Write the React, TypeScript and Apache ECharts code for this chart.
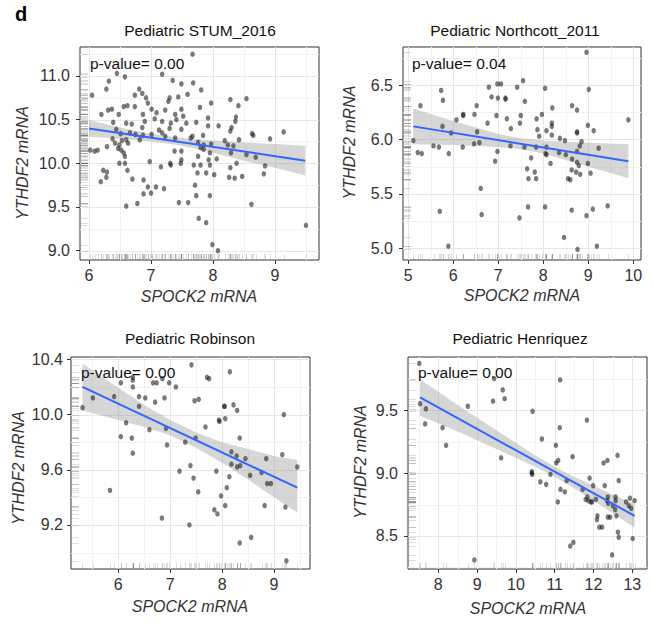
import React, { useEffect, useRef } from 'react';
import * as echarts from 'echarts';

// ---------- data ----------
const stumPoints = [
  [7.67,11.25],[6.45,11.03],[7.18,11.02],[6.58,10.99],[6.32,10.94],[7.35,10.95],[7.68,10.92],[7.49,10.91],[6.28,10.85],[6.81,10.85],
  [7.81,10.84],[6.86,10.80],[6.05,10.78],[6.74,10.78],[6.92,10.75],[7.30,10.75],[7.44,10.76],[7.59,10.79],[8.54,10.74],[8.28,10.73],
  [6.95,10.69],[7.28,10.71],[7.97,10.69],[8.41,10.66],[6.62,10.66],[6.56,10.65],[6.74,10.65],[7.79,10.64],[6.37,10.62],[6.31,10.61],
  [7.01,10.62],[7.23,10.61],[7.49,10.62],[6.20,10.56],[6.48,10.56],[6.87,10.56],[7.09,10.58],[7.39,10.56],[7.52,10.54],[8.37,10.53],
  [7.06,10.51],[7.92,10.52],[6.90,10.48],[7.18,10.48],[7.41,10.50],[8.36,10.48],[6.39,10.47],[6.60,10.46],[6.69,10.45],[7.32,10.46],
  [7.57,10.46],[7.73,10.47],[7.92,10.43],[8.09,10.43],[8.30,10.41],[6.44,10.39],[6.86,10.41],[7.13,10.38],[7.49,10.39],[7.18,10.35],
  [7.30,10.40],[8.28,10.37],[8.63,10.34],[9.14,10.36],[6.51,10.34],[6.66,10.35],[6.75,10.33],[6.87,10.32],[7.01,10.33],[7.23,10.31],
  [7.67,10.31],[7.84,10.32],[8.65,10.32],[6.38,10.28],[6.60,10.27],[6.82,10.27],[7.39,10.29],[7.64,10.29],[8.42,10.27],[8.92,10.28],
  [7.76,10.24],[8.19,10.26],[6.42,10.23],[6.49,10.21],[6.53,10.26],[6.63,10.23],[6.29,10.19],[7.80,10.18],[7.85,10.21],[7.97,10.22],
  [8.24,10.21],[6.02,10.15],[6.09,10.14],[6.14,10.15],[6.47,10.17],[6.52,10.15],[6.56,10.12],[7.38,10.14],[7.49,10.14],[7.85,10.16],
  [8.29,10.12],[8.54,10.10],[8.33,10.20],[6.58,10.08],[7.76,10.08],[7.95,10.12],[8.69,10.07],[7.49,10.04],[7.93,10.04],[8.06,10.05],
  [6.49,10.00],[6.58,10.00],[6.98,10.02],[7.31,10.00],[7.32,9.98],[7.48,10.00],[7.69,9.98],[7.80,9.98],[7.95,9.98],[8.38,10.00],
  [8.84,9.97],[7.16,9.96],[8.28,9.95],[6.62,9.92],[6.23,9.92],[6.29,9.90],[7.75,9.89],[7.89,9.89],[8.82,9.88],[6.28,9.84],
  [6.70,9.82],[8.02,9.87],[8.26,9.84],[8.35,9.83],[8.47,9.85],[6.19,9.79],[6.88,9.81],[7.71,9.75],[6.95,9.73],[7.08,9.73],
  [7.21,9.71],[6.88,9.65],[7.00,9.66],[7.73,9.63],[7.95,9.63],[6.78,9.54],[7.45,9.55],[7.60,9.55],[8.62,9.53],[6.60,9.51],
  [7.77,9.37],[7.89,9.32],[9.50,9.29],[7.99,9.07],[8.08,9.00]
];
const stumLine = [[6.0, 10.40], [9.49, 10.03]];
const stumBandX = [6.0, 6.5, 7.0, 7.5, 8.0, 8.5, 9.0, 9.49];
const stumBandLow = [10.305, 10.28, 10.25, 10.20, 10.12, 10.03, 9.95, 9.86];
const stumBandHigh = [10.495, 10.41, 10.34, 10.29, 10.26, 10.24, 10.22, 10.20];
const stumXTicks = [6, 7, 8, 9];
const stumXMinor = [6.5, 7.5, 8.5, 9.5];
const stumYTicks = [9.0, 9.5, 10.0, 10.5, 11.0];
const stumYMinor = [9.25, 9.75, 10.25, 10.75, 11.25];

const northPoints = [
  [8.96,6.80],[7.55,6.54],[6.79,6.48],[6.98,6.51],[7.06,6.51],[7.42,6.48],[5.73,6.45],[8.04,6.47],[9.01,6.46],[5.77,6.36],
  [6.85,6.39],[6.99,6.38],[7.16,6.37],[7.16,6.38],[7.59,6.35],[5.27,6.31],[6.52,6.31],[8.20,6.29],[8.64,6.31],[8.75,6.27],
  [6.22,6.23],[6.22,6.22],[6.47,6.23],[6.07,6.18],[6.96,6.22],[7.19,6.19],[7.97,6.23],[7.85,6.19],[7.50,6.22],[7.48,6.15],
  [6.76,6.15],[8.19,6.15],[8.99,6.13],[9.89,6.18],[7.28,6.10],[5.76,6.12],[6.53,6.07],[7.87,6.09],[8.07,6.08],[8.19,6.12],
  [9.12,6.08],[5.95,6.06],[7.91,6.03],[8.19,6.04],[8.37,6.01],[8.48,5.99],[8.75,6.06],[8.75,6.07],[5.11,5.99],[6.46,5.96],
  [6.58,5.97],[5.56,5.94],[5.68,5.93],[6.21,5.93],[7.27,5.94],[7.58,5.93],[7.84,5.93],[8.07,5.93],[8.81,5.94],[8.85,5.98],
  [9.23,5.92],[8.05,5.87],[8.07,5.86],[8.35,5.88],[8.50,5.86],[8.75,5.89],[5.21,5.88],[5.30,5.87],[5.90,5.87],[6.98,5.89],
  [7.73,5.83],[6.93,5.80],[8.16,5.78],[8.64,5.82],[8.75,5.79],[8.79,5.76],[8.99,5.78],[7.64,5.73],[7.81,5.70],[8.63,5.72],
  [8.73,5.70],[8.82,5.68],[9.05,5.69],[7.67,5.64],[7.84,5.64],[8.55,5.64],[8.60,5.63],[6.61,5.55],[7.66,5.38],[8.04,5.38],
  [5.70,5.34],[6.63,5.31],[8.63,5.35],[9.10,5.36],[9.43,5.39],[8.96,5.30],[7.47,5.28],[8.46,5.10],[5.89,5.02],[8.76,4.99],
  [9.19,5.02]
];
const northLine = [[5.11, 6.12], [9.89, 5.80]];
const northBandX = [5.11, 6.0, 7.0, 7.5, 8.0, 9.0, 9.89];
const northBandLow = [5.955, 5.95, 5.93, 5.91, 5.87, 5.75, 5.645];
const northBandHigh = [6.285, 6.17, 6.05, 6.01, 5.99, 5.97, 5.955];
const northXTicks = [5, 6, 7, 8, 9, 10];
const northXMinor = [5.5, 6.5, 7.5, 8.5, 9.5];
const northYTicks = [5.0, 5.5, 6.0, 6.5];
const northYMinor = [5.25, 5.75, 6.25, 6.75];

const robinPoints = [
  [7.41,10.36],[7.71,10.27],[7.75,10.26],[8.15,10.31],[6.28,10.27],[6.28,10.25],[6.05,10.23],[6.67,10.23],[6.74,10.23],[6.85,10.26],
  [6.98,10.23],[7.11,10.20],[6.28,10.20],[5.31,10.05],[5.51,10.12],[5.92,10.13],[6.40,10.13],[6.52,10.12],[6.40,10.06],[6.71,10.09],
  [6.89,10.12],[7.47,10.10],[7.55,10.11],[8.22,10.07],[8.04,10.06],[8.05,10.06],[8.29,10.03],[9.19,10.00],[7.94,9.96],[7.95,9.95],
  [8.06,9.97],[6.15,9.94],[6.60,9.89],[6.92,9.90],[7.68,9.91],[6.05,9.84],[6.26,9.83],[7.49,9.83],[8.34,9.83],[7.29,9.80],
  [6.94,9.78],[6.28,9.72],[8.18,9.73],[8.28,9.70],[9.16,9.71],[8.45,9.68],[8.85,9.68],[8.18,9.64],[8.35,9.63],[8.29,9.62],
  [7.39,9.63],[9.45,9.62],[8.76,9.58],[7.18,9.59],[7.89,9.59],[8.14,9.55],[8.54,9.56],[7.45,9.54],[8.87,9.50],[8.94,9.50],
  [8.09,9.47],[7.54,9.44],[5.84,9.45],[7.98,9.41],[8.82,9.34],[9.22,9.33],[8.06,9.34],[7.85,9.31],[7.91,9.28],[6.84,9.25],
  [7.37,9.20],[8.56,9.11],[8.34,9.07],[9.24,8.94]
];
const robinLine = [[5.31, 10.20], [9.45, 9.47]];
const robinBandX = [5.31, 6.0, 6.5, 7.0, 7.5, 8.0, 8.5, 9.0, 9.45];
const robinBandLow = [10.03, 9.96, 9.91, 9.85, 9.76, 9.65, 9.53, 9.40, 9.29];
const robinBandHigh = [10.37, 10.195, 10.07, 9.96, 9.87, 9.80, 9.75, 9.70, 9.67];
const robinXTicks = [6, 7, 8, 9];
const robinXMinor = [5.5, 6.5, 7.5, 8.5, 9.5];
const robinYTicks = [9.2, 9.6, 10.0, 10.4];
const robinYMinor = [9.0, 9.4, 9.8, 10.2];

const henPoints = [
  [7.51,9.87],[7.53,9.55],[7.68,9.51],[7.66,9.39],[8.11,9.36],[8.20,9.22],[8.76,9.53],[8.93,8.31],[9.44,9.75],[9.41,9.57],
  [9.66,9.66],[9.71,9.59],[9.62,9.12],[10.43,9.49],[10.41,9.01],[10.41,9.00],[10.42,8.99],[10.63,8.93],[10.78,8.91],[10.67,9.27],
  [11.14,9.74],[11.13,9.36],[11.03,9.22],[11.09,9.10],[11.04,9.08],[10.89,8.99],[11.15,8.87],[11.26,8.85],[11.08,8.77],[11.31,8.94],
  [11.46,9.13],[11.40,8.42],[11.48,8.45],[11.83,9.42],[11.90,8.96],[11.72,8.87],[11.84,8.81],[11.80,8.79],[11.87,8.78],[11.93,8.77],
  [11.96,8.77],[11.99,8.90],[12.06,8.79],[12.26,9.08],[12.36,9.10],[12.29,8.90],[12.62,9.14],[12.65,8.94],[12.10,8.66],[12.09,8.63],
  [12.15,8.57],[12.22,8.57],[12.37,8.81],[12.35,8.78],[12.38,8.76],[12.43,8.65],[12.37,8.65],[12.50,8.74],[12.56,8.71],[12.59,8.66],
  [12.57,8.78],[12.57,8.81],[12.63,8.53],[12.65,8.49],[12.48,8.35],[12.84,8.77],[12.94,8.80],[12.97,8.72],[13.06,8.78],[12.91,8.74],
  [13.01,8.48]
];
const henLine = [[7.53, 9.60], [13.06, 8.66]];
const henBandX = [7.53, 8.5, 9.5, 10.5, 11.0, 11.5, 12.5, 13.06];
const henBandLow = [9.455, 9.33, 9.19, 9.05, 8.97, 8.88, 8.68, 8.565];
const henBandHigh = [9.745, 9.54, 9.34, 9.14, 9.05, 8.97, 8.83, 8.755];
const henXTicks = [8, 9, 10, 11, 12, 13];
const henXMinor = [7.5, 8.5, 9.5, 10.5, 11.5, 12.5];
const henYTicks = [8.5, 9.0, 9.5];
const henYMinor = [8.25, 8.75, 9.25, 9.75];

const titles = ['Pediatric STUM_2016', 'Pediatric Northcott_2011', 'Pediatric Robinson', 'Pediatric Henriquez'];
const pValues = ['p-value= 0.00', 'p-value= 0.04', 'p-value= 0.00', 'p-value= 0.00'];
const xTitle = 'SPOCK2 mRNA';
const yTitle = 'YTHDF2 mRNA';

// ---------- layout ----------
const FONT = "'Liberation Sans', Arial, sans-serif";
const MAJOR = '#e6e6e6';
const MINOR = '#f3f3f3';

const panels = [
  { points: stumPoints, line: stumLine, bx: stumBandX, blo: stumBandLow, bhi: stumBandHigh,
    xt: stumXTicks, xm: stumXMinor, yt: stumYTicks, ym: stumYMinor, ydec: 1, ymargin: 10,
    grid: { left: 80, top: 47, width: 239, height: 213 }, xr: [5.855, 9.71], yr: [8.893, 11.332],
    title: [200, 30], ytitle: [22.5, 163], xtitle: [199, 296], p: [90, 63] },
  { points: northPoints, line: northLine, bx: northBandX, blo: northBandLow, bhi: northBandHigh,
    xt: northXTicks, xm: northXMinor, yt: northYTicks, ym: northYMinor, ydec: 1, ymargin: 10,
    grid: { left: 403, top: 47, width: 238, height: 213 }, xr: [4.882, 10.171], yr: [4.893, 6.849],
    title: [515, 30], ytitle: [349, 142.5], xtitle: [522, 295], p: [412, 63] },
  { points: robinPoints, line: robinLine, bx: robinBandX, blo: robinBandLow, bhi: robinBandHigh,
    xt: robinXTicks, xm: robinXMinor, yt: robinYTicks, ym: robinYMinor, ydec: 1, ymargin: 8,
    grid: { left: 71, top: 357, width: 239, height: 212 }, xr: [5.089, 9.694], yr: [8.881, 10.417],
    title: [190, 338], ytitle: [18.5, 468], xtitle: [190, 606], p: [81, 372] },
  { points: henPoints, line: henLine, bx: henBandX, blo: henBandLow, bhi: henBandHigh,
    xt: henXTicks, xm: henXMinor, yt: henYTicks, ym: henYMinor, ydec: 1, ymargin: 10,
    grid: { left: 408, top: 357, width: 239, height: 212 }, xr: [7.219, 13.379], yr: [8.238, 9.921],
    title: [520, 338], ytitle: [360.5, 462], xtitle: [528, 608], p: [418, 372] },
];

function buildOption() {
  const grids: any[] = [];
  const xAxes: any[] = [];
  const yAxes: any[] = [];
  const series: any[] = [];
  const graphics: any[] = [];

  panels.forEach((pn, i) => {
    grids.push({ ...pn.grid, show: true, borderColor: '#333', borderWidth: 1, backgroundColor: '#fff', containLabel: false });
    xAxes.push({
      type: 'value', gridIndex: i, min: pn.xr[0], max: pn.xr[1],
      axisLine: { show: false }, splitLine: { show: false },
      axisTick: { show: true, customValues: pn.xt, length: 4, inside: false, lineStyle: { color: '#333', width: 1 } },
      axisLabel: { customValues: pn.xt, formatter: (v: number) => String(Math.round(v)), color: '#333', fontSize: 16, fontFamily: FONT, margin: 7 },
    });
    yAxes.push({
      type: 'value', gridIndex: i, min: pn.yr[0], max: pn.yr[1],
      axisLine: { show: false }, splitLine: { show: false },
      axisTick: { show: true, customValues: pn.yt, length: 4, inside: false, lineStyle: { color: '#333', width: 1 } },
      axisLabel: { customValues: pn.yt, formatter: (v: number) => v.toFixed(pn.ydec), color: '#333', fontSize: 16, fontFamily: FONT, margin: pn.ymargin },
    });

    const gridData: any[] = [];
    pn.xt.forEach((v) => gridData.push([v, pn.yr[0], 0]));
    pn.xm.forEach((v) => gridData.push([v, pn.yr[0], 1]));
    pn.yt.forEach((v) => gridData.push([pn.xr[0], v, 2]));
    pn.ym.forEach((v) => gridData.push([pn.xr[0], v, 3]));

    series.push({
      type: 'custom', xAxisIndex: i, yAxisIndex: i, silent: true, z: 1,
      dimensions: ['x', 'y', 'k'], encode: { x: 0, y: 1 },
      data: gridData,
      renderItem: (params: any, api: any) => {
        const cs = params.coordSys;
        const k = api.value(2);
        const p = api.coord([api.value(0), api.value(1)]);
        const stroke = k % 2 === 0 ? MAJOR : MINOR;
        if (k < 2) {
          const x = Math.round(p[0]) + 0.5;
          return { type: 'line', shape: { x1: x, y1: cs.y, x2: x, y2: cs.y + cs.height }, style: { stroke, lineWidth: 1 } };
        }
        const y = Math.round(p[1]) + 0.5;
        return { type: 'line', shape: { x1: cs.x, y1: y, x2: cs.x + cs.width, y2: y }, style: { stroke, lineWidth: 1 } };
      },
    });

    series.push({
      type: 'custom', xAxisIndex: i, yAxisIndex: i, silent: true, z: 2,
      data: [[pn.bx[0], pn.blo[0]]],
      renderItem: (params: any, api: any) => {
        const pts: number[][] = [];
        for (let j = 0; j < pn.bx.length; j++) pts.push(api.coord([pn.bx[j], pn.bhi[j]]));
        for (let j = pn.bx.length - 1; j >= 0; j--) pts.push(api.coord([pn.bx[j], pn.blo[j]]));
        return { type: 'polygon', shape: { points: pts }, style: { fill: 'rgba(153,153,153,0.4)' } };
      },
    });

    series.push({
      type: 'custom', xAxisIndex: i, yAxisIndex: i, silent: true, z: 3,
      data: pn.points,
      renderItem: (params: any, api: any) => {
        const cs = params.coordSys;
        const p = api.coord([api.value(0), api.value(1)]);
        const st = { stroke: 'rgba(0,0,0,0.13)', lineWidth: 1 };
        const yy = Math.round(p[1]) + 0.5;
        const xx = Math.round(p[0]) + 0.5;
        return {
          type: 'group',
          children: [
            { type: 'line', shape: { x1: cs.x + 1, y1: yy, x2: cs.x + 8, y2: yy }, style: st },
            { type: 'line', shape: { x1: xx, y1: cs.y + cs.height - 1, x2: xx, y2: cs.y + cs.height - 6 }, style: st },
          ],
        };
      },
    });

    series.push({
      type: 'scatter', xAxisIndex: i, yAxisIndex: i, z: 4, silent: true,
      symbol: 'circle', symbolSize: [4.5, 5.5],
      itemStyle: { color: 'rgba(25,25,25,0.72)' },
      data: pn.points,
    });

    series.push({
      type: 'line', xAxisIndex: i, yAxisIndex: i, z: 5, silent: true,
      showSymbol: false, symbol: 'none',
      lineStyle: { color: '#3366FF', width: 2 },
      data: pn.line,
    });

    graphics.push({
      type: 'text', x: pn.title[0], y: pn.title[1],
      style: { text: titles[i], font: `15.5px ${FONT}`, fill: '#111', align: 'center', verticalAlign: 'middle', textAlign: 'center', textVerticalAlign: 'middle' },
    });
    graphics.push({
      type: 'text', x: pn.xtitle[0], y: pn.xtitle[1],
      style: { text: xTitle, font: `italic 16px ${FONT}`, fill: '#333', align: 'center', verticalAlign: 'middle', textAlign: 'center', textVerticalAlign: 'middle' },
    });
    graphics.push({
      type: 'text', x: pn.ytitle[0], y: pn.ytitle[1], rotation: Math.PI / 2,
      style: { text: yTitle, font: `italic 16px ${FONT}`, fill: '#333', align: 'center', verticalAlign: 'middle', textAlign: 'center', textVerticalAlign: 'middle' },
    });
    graphics.push({
      type: 'text', x: pn.p[0], y: pn.p[1], z: 100,
      style: { text: pValues[i], font: `15.5px ${FONT}`, fill: '#111', align: 'left', verticalAlign: 'middle', textAlign: 'left', textVerticalAlign: 'middle' },
    });
  });

  graphics.push({
    type: 'text', x: 21, y: 14,
    style: { text: 'd', font: `bold 20px ${FONT}`, fill: '#000', align: 'center', verticalAlign: 'middle', textAlign: 'center', textVerticalAlign: 'middle' },
  });

  return {
    animation: false,
    backgroundColor: '#fff',
    grid: grids,
    xAxis: xAxes,
    yAxis: yAxes,
    series,
    graphic: { elements: graphics },
  };
}

export default function App() {
  const ref = useRef<HTMLDivElement>(null);
  useEffect(() => {
    if (!ref.current) return;
    const chart = echarts.init(ref.current, undefined, { renderer: 'svg' });
    chart.setOption(buildOption() as any);
    return () => chart.dispose();
  }, []);
  return <div ref={ref} style={{ position: 'fixed', left: 0, top: 0, width: 653, height: 623 }} />;
}
